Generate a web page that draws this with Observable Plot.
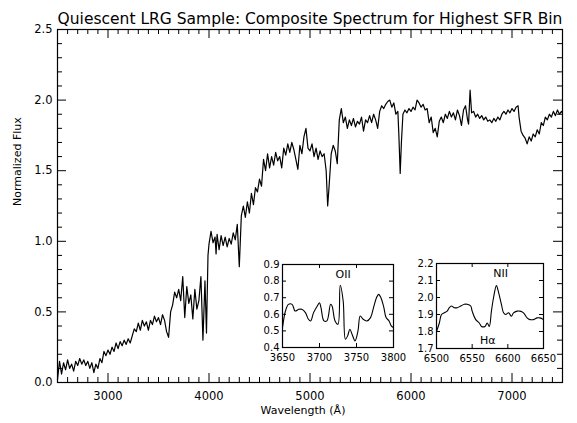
<!DOCTYPE html>
<html>
<head>
<meta charset="utf-8">
<script src="https://cdn.jsdelivr.net/npm/d3@7"></script>
<script src="https://cdn.jsdelivr.net/npm/@observablehq/plot@0.6"></script>
<style>
  html, body { margin: 0; padding: 0; background: #fff; }
  #wrap { position: relative; width: 577px; height: 423px; overflow: hidden; background: #fff; }
  #wrap svg { position: absolute; overflow: visible; }
</style>
</head>
<body>
<div id="wrap"></div>
<script>
// ---- Data ----
const title = "Quiescent LRG Sample: Composite Spectrum for Highest SFR Bin";
const xLabel = "Wavelength (Å)";
const yLabel = "Normalized Flux";

const mainWave = [
  2500,2520,2540,2560,2580,2600,2620,2640,2660,2680,2700,2720,2740,2760,2780,2800,2820,2840,2860,2880,
  2900,2920,2940,2960,2980,3000,3020,3040,3060,3080,3100,3120,3140,3160,3180,3200,3220,3240,3260,3280,
  3300,3320,3340,3360,3380,3400,3420,3440,3460,3480,3500,3520,3540,3560,3580,3600,3620,3640,3660,3680,
  3700,3720,3740,3760,3780,3800,3820,3840,3860,3880,3900,3920,3940,3960,3975,3990,4000,4020,4040,4060,
  4070,4080,4100,4120,4140,4160,4180,4200,4220,4240,4260,4280,4300,4320,4340,4360,4380,4400,4420,4440,
  4460,4480,4500,4520,4540,4560,4580,4600,4620,4640,4660,4680,4700,4720,4740,4760,4780,4800,4820,4840,
  4860,4880,4900,4920,4940,4960,4980,5000,5020,5040,5060,5080,5100,5120,5140,5160,5175,5190,5210,5230,
  5250,5270,5290,5310,5330,5350,5370,5390,5410,5430,5450,5470,5490,5510,5530,5550,5570,5590,5610,5630,
  5650,5670,5690,5710,5730,5750,5770,5790,5810,5830,5850,5870,5880,5893,5905,5920,5940,5960,5980,6000,
  6020,6040,6060,6080,6100,6120,6140,6160,6180,6200,6220,6240,6260,6280,6300,6320,6340,6360,6380,6400,
  6420,6440,6460,6480,6500,6520,6540,6560,6570,6585,6600,6620,6640,6660,6680,6700,6720,6740,6760,6780,
  6800,6820,6840,6860,6880,6900,6920,6940,6960,6980,7000,7020,7040,7060,7070,7090,7110,7130,7150,7170,
  7190,7210,7230,7250,7270,7290,7310,7330,7350,7370,7390,7410,7430,7450,7470,7490,7500
];
const mainFlux = [
  0.02,0.15,0.06,0.14,0.09,0.16,0.10,0.13,0.08,0.15,0.12,0.17,0.13,0.16,0.12,0.15,0.10,0.14,0.07,0.13,
  0.10,0.17,0.14,0.22,0.19,0.23,0.20,0.25,0.22,0.28,0.24,0.29,0.26,0.30,0.27,0.31,0.28,0.33,0.38,0.36,
  0.42,0.37,0.44,0.40,0.43,0.37,0.44,0.41,0.47,0.43,0.46,0.41,0.48,0.44,0.36,0.32,0.50,0.55,0.64,0.60,
  0.66,0.58,0.75,0.46,0.68,0.56,0.62,0.45,0.66,0.52,0.58,0.75,0.30,0.72,0.35,0.90,0.98,1.07,0.99,1.03,
  0.91,1.05,0.94,1.04,0.97,1.03,0.96,1.02,0.98,1.06,1.01,1.12,0.82,1.18,1.25,1.17,1.28,1.20,1.34,1.26,
  1.38,1.35,1.44,1.39,1.58,1.50,1.62,1.52,1.60,1.54,1.63,1.57,1.60,1.52,1.66,1.61,1.69,1.63,1.70,1.65,
  1.58,1.51,1.68,1.62,1.74,1.80,1.66,1.64,1.69,1.60,1.66,1.58,1.64,1.60,1.62,1.50,1.25,1.40,1.62,1.68,
  1.64,1.55,1.86,1.94,1.84,1.88,1.80,1.86,1.82,1.87,1.81,1.85,1.83,1.88,1.78,1.86,1.84,1.89,1.84,1.90,
  1.86,1.80,1.92,1.96,1.94,1.97,1.99,2.00,1.95,1.98,1.90,1.92,1.75,1.48,1.70,1.90,1.93,1.91,1.94,1.92,
  1.95,1.93,2.00,1.98,1.95,1.97,1.93,1.94,1.84,1.88,1.77,1.80,1.74,1.85,1.88,1.84,1.90,1.87,1.92,1.88,
  1.91,1.86,1.93,1.89,1.82,1.93,1.96,1.86,1.83,2.07,1.91,1.92,1.88,1.90,1.87,1.89,1.86,1.88,1.85,1.86,
  1.84,1.87,1.85,1.88,1.86,1.90,1.92,1.90,1.93,1.91,1.94,1.92,1.95,1.96,1.88,1.78,1.75,1.73,1.69,1.74,
  1.71,1.76,1.74,1.79,1.76,1.84,1.82,1.88,1.86,1.90,1.88,1.92,1.89,1.93,1.90,1.92,1.91
];

const oiiWave = [3650,3654,3658,3663,3667,3672,3676,3681,3685,3688,3692,3697,3700,3702,3706,3710,3715,3717,3721,3725,
  3728,3732,3735,3738,3741,3744,3748,3752,3755,3759,3764,3769,3773,3777,3780,3783,3787,3790,3794,3797,3800];
const oiiFlux = [0.52,0.62,0.66,0.66,0.62,0.63,0.63,0.61,0.57,0.56,0.61,0.65,0.67,0.64,0.56,0.56,0.66,0.65,0.56,0.54,
  0.775,0.68,0.45,0.47,0.51,0.48,0.44,0.50,0.59,0.57,0.56,0.58,0.64,0.70,0.72,0.70,0.64,0.58,0.56,0.53,0.52];

const haWave = [6500,6504,6507,6511,6515,6518,6521,6525,6529,6534,6539,6543,6548,6550,6555,6560,6563,6568,6571,6574,
  6577,6580,6584,6587,6591,6594,6597,6601,6605,6608,6613,6617,6622,6627,6631,6636,6641,6645,6650];
const haFlux = [1.80,1.85,1.90,1.91,1.92,1.94,1.95,1.94,1.94,1.95,1.96,1.96,1.95,1.92,1.87,1.85,1.83,1.83,1.85,1.83,
  1.92,2.00,2.07,2.03,1.96,1.91,1.90,1.91,1.89,1.91,1.92,1.92,1.91,1.88,1.87,1.87,1.88,1.88,1.87];

const mainMajorX = [3000,4000,5000,6000,7000];
const mainMajorY = [0.0,0.5,1.0,1.5,2.0,2.5];
const oiiTicksX = [3650,3700,3750,3800];
const oiiTicksY = [0.4,0.5,0.6,0.7,0.8,0.9];
const haTicksX = [6500,6550,6600,6650];
const haTicksY = [1.7,1.8,1.9,2.0,2.1,2.2];
const oiiLabel = {text: "OII", x: 3732, y: 0.84};
const niiLabel = {text: "NII", x: 6590, y: 2.14};
const haLabel = {text: "Hα", x: 6572, y: 1.745};

// ---- helpers ----
const FONT = "DejaVu Sans";
function rangeStep(a, b, s) { const out = []; for (let i = 0; a + i * s <= b + 1e-9; i++) out.push(+(a + i * s).toFixed(6)); return out; }
function inwardTicks(xs, ys, plotW, plotH, len) {
  const m = [];
  if (xs.length) {
    m.push(Plot.ruleX(xs, {insetTop: plotH - len, stroke: "black", strokeWidth: 1}));
    m.push(Plot.ruleX(xs, {insetBottom: plotH - len, stroke: "black", strokeWidth: 1}));
  }
  if (ys.length) {
    m.push(Plot.ruleY(ys, {insetRight: plotW - len, stroke: "black", strokeWidth: 1}));
    m.push(Plot.ruleY(ys, {insetLeft: plotW - len, stroke: "black", strokeWidth: 1}));
  }
  return m;
}
function place(svg, left, top) {
  svg.style.left = left + "px";
  svg.style.top = top + "px";
  document.getElementById("wrap").appendChild(svg);
}

// ---- main panel ----
const W = 577, H = 423, mL = 57, mR = 15, mT = 29, mB = 41;
const pW = W - mL - mR, pH = H - mT - mB;
const mainData = mainWave.map((w, i) => ({w, f: mainFlux[i]}));
const minorX = rangeStep(2600, 7400, 100).filter(v => v % 1000 !== 0);
const minorY = rangeStep(0.1, 2.4, 0.1).filter(v => Math.round(v * 10) % 5 !== 0);

const main = Plot.plot({
  width: W, height: H,
  marginLeft: mL, marginRight: mR, marginTop: mT, marginBottom: mB,
  style: {fontFamily: FONT, fontSize: "11.5px", background: "transparent", color: "black"},
  x: {domain: [2500, 7500], ticks: mainMajorX, tickSize: 0, tickPadding: 9, tickFormat: d3.format("d"), label: null},
  y: {domain: [0, 2.5], ticks: mainMajorY, tickSize: 0, tickPadding: 5, tickFormat: d3.format(".1f"), label: null},
  marks: [
    Plot.line(mainData, {x: "w", y: "f", stroke: "black", strokeWidth: 1.2}),
    ...inwardTicks(mainMajorX, mainMajorY.filter(v => v > 0 && v < 2.5), pW, pH, 9),
    ...inwardTicks(minorX, minorY, pW, pH, 5),
    Plot.frame({stroke: "black", strokeWidth: 1.2}),
    Plot.text([title], {frameAnchor: "top", dy: -17, fontSize: 15.5, fill: "black"}),
    Plot.text([xLabel], {frameAnchor: "bottom", dy: 31, dx: -7, fontSize: 11, fill: "black"}),
    Plot.text([yLabel], {frameAnchor: "left", dx: -40, rotate: -90, fontSize: 11, fill: "black"})
  ]
});
place(main, 0, 0);

// ---- insets ----
function inset(wave, flux, xd, yd, tx, ty, labels, frame) {
  const iL = 26, iR = 14, iT = 6, iB = 22;
  const w = frame.x1 - frame.x0, h = frame.y1 - frame.y0;
  const data = wave.map((v, i) => ({w: v, f: flux[i]}));
  const svg = Plot.plot({
    width: w + iL + iR, height: h + iT + iB,
    marginLeft: iL, marginRight: iR, marginTop: iT, marginBottom: iB,
    style: {fontFamily: FONT, fontSize: "10px", background: "transparent", color: "black"},
    x: {domain: xd, ticks: tx, tickSize: 0, tickPadding: 6, tickFormat: d3.format("d"), label: null},
    y: {domain: yd, ticks: ty, tickSize: 0, tickPadding: 3, tickFormat: d3.format(".1f"), label: null},
    marks: [
      Plot.line(data, {x: "w", y: "f", curve: "catmull-rom", stroke: "black", strokeWidth: 1.1}),
      ...inwardTicks(tx.slice(1, -1), ty.slice(1, -1), w, h, 4),
      Plot.frame({stroke: "black", strokeWidth: 1.2}),
      ...labels.map(l => Plot.text([l], {x: "x", y: "y", text: "text", fontSize: 11, fill: "black"}))
    ]
  });
  place(svg, frame.x0 - iL, frame.y0 - iT);
}
inset(oiiWave, oiiFlux, [3650, 3800], [0.4, 0.9], oiiTicksX, oiiTicksY, [oiiLabel], {x0: 282, x1: 393, y0: 264, y1: 347});
inset(haWave, haFlux, [6500, 6650], [1.7, 2.2], haTicksX, haTicksY, [niiLabel, haLabel], {x0: 436, x1: 543, y0: 263, y1: 348});
</script>
</body>
</html>
